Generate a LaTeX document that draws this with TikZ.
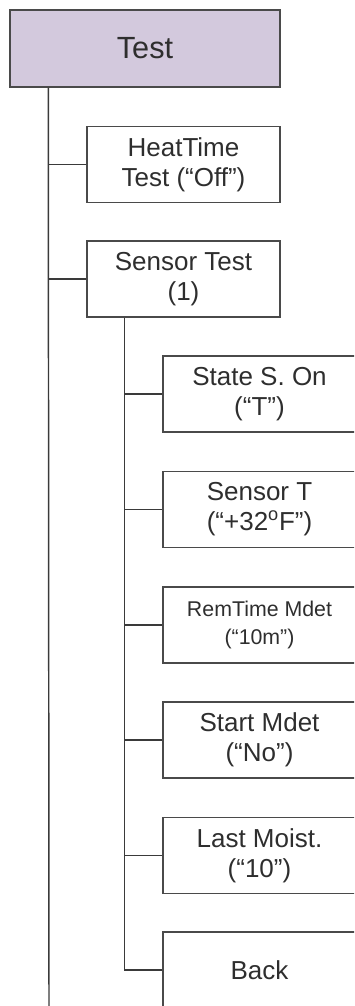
\documentclass[tikz,border=0pt]{standalone}
\usepackage{fontspec}
\setmainfont{Liberation Sans}
\usetikzlibrary{calc}

\definecolor{boxgray}{HTML}{4A4A4A}
\definecolor{linegray}{HTML}{3A3A3A}
\definecolor{textgray}{HTML}{2E2E2E}
\definecolor{headfill}{HTML}{D3C9DD}

\tikzset{
  menubox/.style={draw=boxgray, line width=1.1pt, rectangle, inner sep=0pt,
    minimum width=144.75pt, minimum height=57pt, align=center, text=textgray,
    font=\fontsize{19.5}{22.5}\selectfont},
  headbox/.style={menubox, fill=headfill, minimum width=202.5pt,
    minimum height=57.75pt, font=\fontsize{23}{26}\selectfont},
  smalltext/.style={font=\fontsize{16}{21}\selectfont},
  link/.style={draw=linegray, line width=1.1pt},
}

\begin{document}
\begin{tikzpicture}[x=0.75pt, y=-0.75pt]
  \clip (0,0) rectangle (354,1006);

  % Coordinates
  \coordinate (P_test) at (145.0, 48.5);
  \coordinate (P_heat) at (183.5, 164.5);
  \coordinate (P_sens) at (183.5, 279.0);
  \coordinate (P_state) at (259.5, 394.0);
  \coordinate (P_temp) at (259.5, 509.5);
  \coordinate (P_rem) at (259.5, 625.0);
  \coordinate (P_start) at (259.5, 740.0);
  \coordinate (P_moist) at (259.5, 855.5);
  \coordinate (P_back) at (259.5, 970.0);

  % Boxes
  \node[headbox] (test) at (P_test) {Test};
  \node[menubox] (heat) at (P_heat) {HeatTime\\Test (“Off”)};
  \node[menubox] (sens) at (P_sens) {Sensor Test\\(1)};
  \node[menubox] (state) at (P_state) {State S. On\\(“T”)};
  \node[menubox] (temp) at (P_temp) {Sensor T\\(“+32\textsuperscript{o}F”)};
  \node[menubox, smalltext] (rem) at (P_rem) {RemTime Mdet\\(“10m”)};
  \node[menubox] (start) at (P_start) {Start Mdet\\(“No”)};
  \node[menubox] (moist) at (P_moist) {Last Moist.\\(“10”)};
  \node[menubox] (back) at (P_back) {Back};

  % Trunks
  \coordinate (trunk) at ($(test.south west)+(39,0)$);
  \coordinate (trunkend) at (49, 1006);
  \coordinate (subtrunk) at ($(sens.south west)+(38,0)$);

  % Drawing
  \draw[link] (trunk) -- (trunkend);
  \draw[link] (heat.west -| trunk) -- (heat.west);
  \draw[link] (sens.west -| trunk) -- (sens.west);
  \draw[link] (subtrunk) -- (back.west -| subtrunk);
  \foreach \n in {state,temp,rem,start,moist,back}
    \draw[link] (\n.west -| subtrunk) -- (\n.west);
\end{tikzpicture}
\end{document}
